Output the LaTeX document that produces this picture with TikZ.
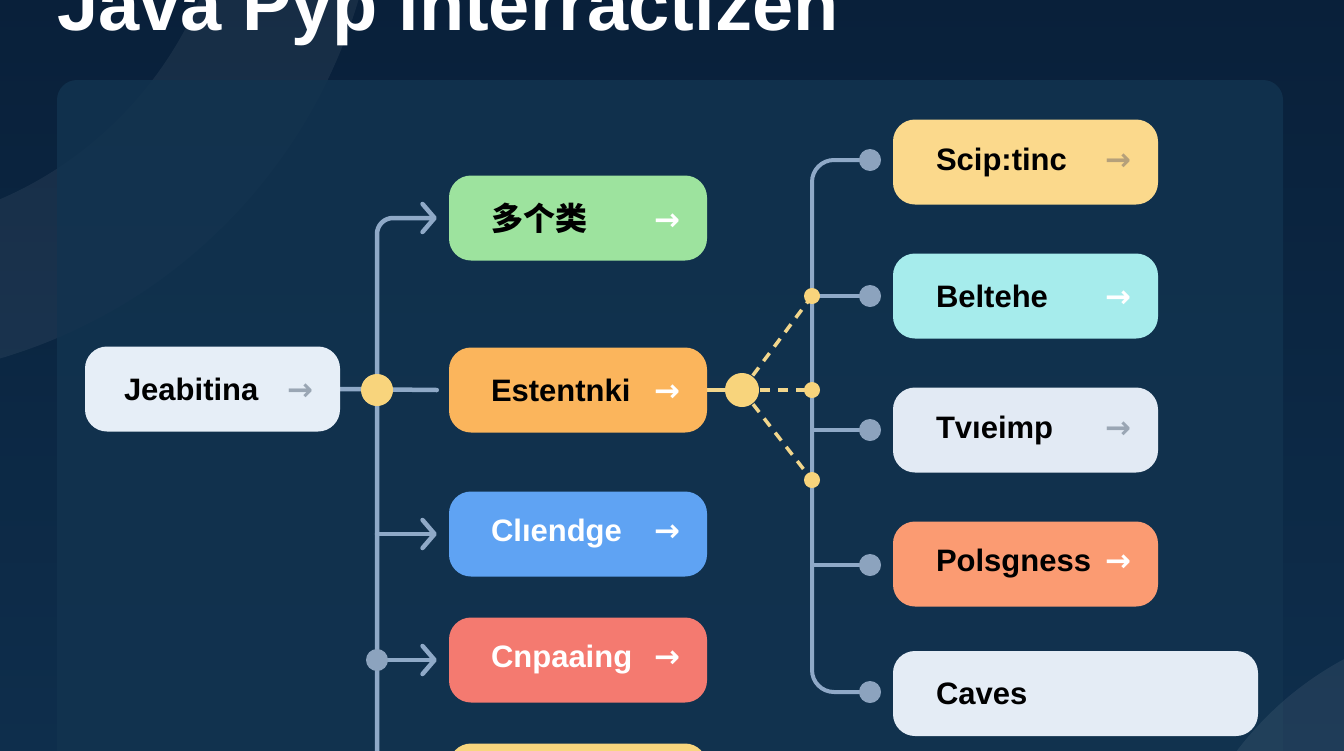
\documentclass[tikz,border=0pt]{standalone}
\usepackage{fontspec}
\setmainfont{Liberation Sans}
\newfontfamily\cjk{Noto Sans CJK SC}
\newfontfamily\arrowfont{DejaVu Sans}
\usetikzlibrary{arrows.meta}
\definecolor{bgtop}{HTML}{09203A}
\definecolor{bgbot}{HTML}{0E2E4C}
\definecolor{panelc}{HTML}{12334F}
\definecolor{lc}{HTML}{8FA9C7}
\definecolor{ydc}{HTML}{F8D47C}
\definecolor{dashc}{HTML}{F2D68C}
\definecolor{gdc}{HTML}{8CA3BE}
\definecolor{cjea}{HTML}{E6EEF7}
\definecolor{cduo}{HTML}{9DE39E}
\definecolor{cest}{HTML}{FBB55C}
\definecolor{cchl}{HTML}{5FA3F3}
\definecolor{ccnp}{HTML}{F47A70}
\definecolor{cbot}{HTML}{F8D67E}
\definecolor{cscip}{HTML}{FBD98C}
\definecolor{cbelt}{HTML}{A6ECEC}
\definecolor{ctvi}{HTML}{E2EAF4}
\definecolor{cpols}{HTML}{FB9B72}
\definecolor{ccav}{HTML}{E4ECF5}
\definecolor{greyarr}{HTML}{9AA6B4}
\definecolor{brownarr}{HTML}{B5A07A}
\pgfdeclarelayer{back}
\pgfdeclarelayer{lines}
\pgfsetlayers{back,lines,main}
\newcommand\arr[1]{{\color{#1}\arrowfont\fontsize{31}{34}\selectfont →}}
\newcommand\bx[4]{\makebox[#1][l]{\hspace*{#2}#3\hfill#4\hspace*{27pt}}}
\begin{document}
\begin{tikzpicture}[x=1pt,y=-1pt,
  box/.style={rounded corners=22pt, inner sep=0pt, minimum height=85pt,
    font=\bfseries\fontsize{31}{36}\selectfont, text=black},
  conn/.style={draw=lc, line width=4.5pt, rounded corners=16pt, line cap=round},
  rconn/.style={draw=lc, line width=4pt, rounded corners=22pt},
  tipc/.style={-{Straight Barb[length=12pt,width=28pt,round]}},
  ydot/.style={circle, fill=ydc, inner sep=0pt, minimum size=#1},
  gdot/.style={circle, fill=gdc, inner sep=0pt, minimum size=22pt},
  dashl/.style={draw=dashc, line width=3.5pt, dash pattern=on 10pt off 8pt},
]
\useasboundingbox (0,0) rectangle (1344,750);
\clip (0,0) rectangle (1344,750);
\begin{pgfonlayer}{back}
\shade[top color=bgtop, bottom color=bgbot] (0,0) rectangle (1344,750);
\fill[white, opacity=0.06, even odd rule] (-150,-150) circle (530) (-150,-150) circle (380);
\fill[panelc, opacity=0.85, rounded corners=20pt] (57,80) rectangle (1283,800);
\fill[white, opacity=0.07] (1500,950) circle (330);
\end{pgfonlayer}

% title
\node[anchor=base west, inner sep=0pt, text=white, font=\bfseries\fontsize{74}{80}\selectfont] (title) at (57,30) {Java Pyp interractizen};

% left column
\node[box, fill=cjea] (jea) at (212.5,389) {\bx{255pt}{39pt}{Jeabitina}{\arr{greyarr}}};
% middle column
\node[box, fill=cduo] (duo) at (578,218) {\bx{258pt}{42pt}{{\cjk\fontsize{32}{36}\selectfont 多个类}}{\arr{white}}};
\node[box, fill=cest] (est) at (578,390) {\bx{258pt}{42pt}{Estentnki}{\arr{white}}};
\node[box, fill=cchl, text=white] (chl) at (578,534) {\bx{258pt}{42pt}{Clıendge}{\arr{white}}};
\node[box, fill=ccnp, text=white] (cnp) at (578,660) {\bx{258pt}{42pt}{Cnpaaing}{\arr{white}}};
\node[box, fill=cbot] (bot) at (578,786) {\bx{258pt}{42pt}{}{}};
% right column
\node[box, fill=cscip] (scip) at (1025.5,162) {\bx{265pt}{43pt}{Scip:tinc}{\arr{brownarr}}};
\node[box, fill=cbelt] (belt) at (1025.5,296) {\bx{265pt}{43pt}{Beltehe}{\arr{white}}};
\node[box, fill=ctvi] (tvi) at (1025.5,430) {\bx{265pt}{43pt}{Tvıeimp}{\arr{greyarr}}};
\node[box, fill=cpols] (pols) at (1025.5,564) {\bx{265pt}{43pt}{Polsgness}{\arr{white}}};
\node[box, fill=ccav] (cav) at (1075.5,693.5) {\bx{365pt}{43pt}{Caves}{}};

% dots
\coordinate (ltb) at (377,780);
\node[ydot=32pt] (yl) at (377,390) {};
\node[gdot] (gl) at (377,660) {};
\node[ydot=34pt] (yr) at (742,390) {};
\node[ydot=16pt] (yd1) at (812,296) {};
\node[ydot=16pt] (yd2) at (812,390) {};
\node[ydot=16pt] (yd3) at (812,480) {};
\coordinate (rt) at (812,0);
\node[gdot] (gd1) at (870,160) {};
\node[gdot] (gd2) at (870,296) {};
\node[gdot] (gd3) at (870,430) {};
\node[gdot] (gd4) at (870,565) {};
\node[gdot] (gd5) at (870,692) {};

\begin{pgfonlayer}{lines}
% left trunk
\draw[conn, tipc] (ltb) |- ([xshift=-12pt]duo.west);
\draw[conn] (jea.east) -- ([xshift=-12pt]est.west);
\draw[conn, tipc] (ltb |- chl.west) -- ([xshift=-12pt]chl.west);
\draw[conn, tipc] (gl.center) -- ([xshift=-12pt]cnp.west);
% right
\draw[draw=dashc, line width=4pt] (est.east) -- (yr.center);
\draw[dashl] (yr.center) -- (yd1.center);
\draw[dashl] (yr.center) -- (yd2.center);
\draw[dashl] (yr.center) -- (yd3.center);
\draw[rconn] (gd1.center) -| (rt |- gd5) -- (gd5.center);
\draw[rconn] (rt |- gd2) -- (gd2.center);
\draw[rconn] (rt |- gd3) -- (gd3.center);
\draw[rconn] (rt |- gd4) -- (gd4.center);
\end{pgfonlayer}
\end{tikzpicture}
\end{document}
